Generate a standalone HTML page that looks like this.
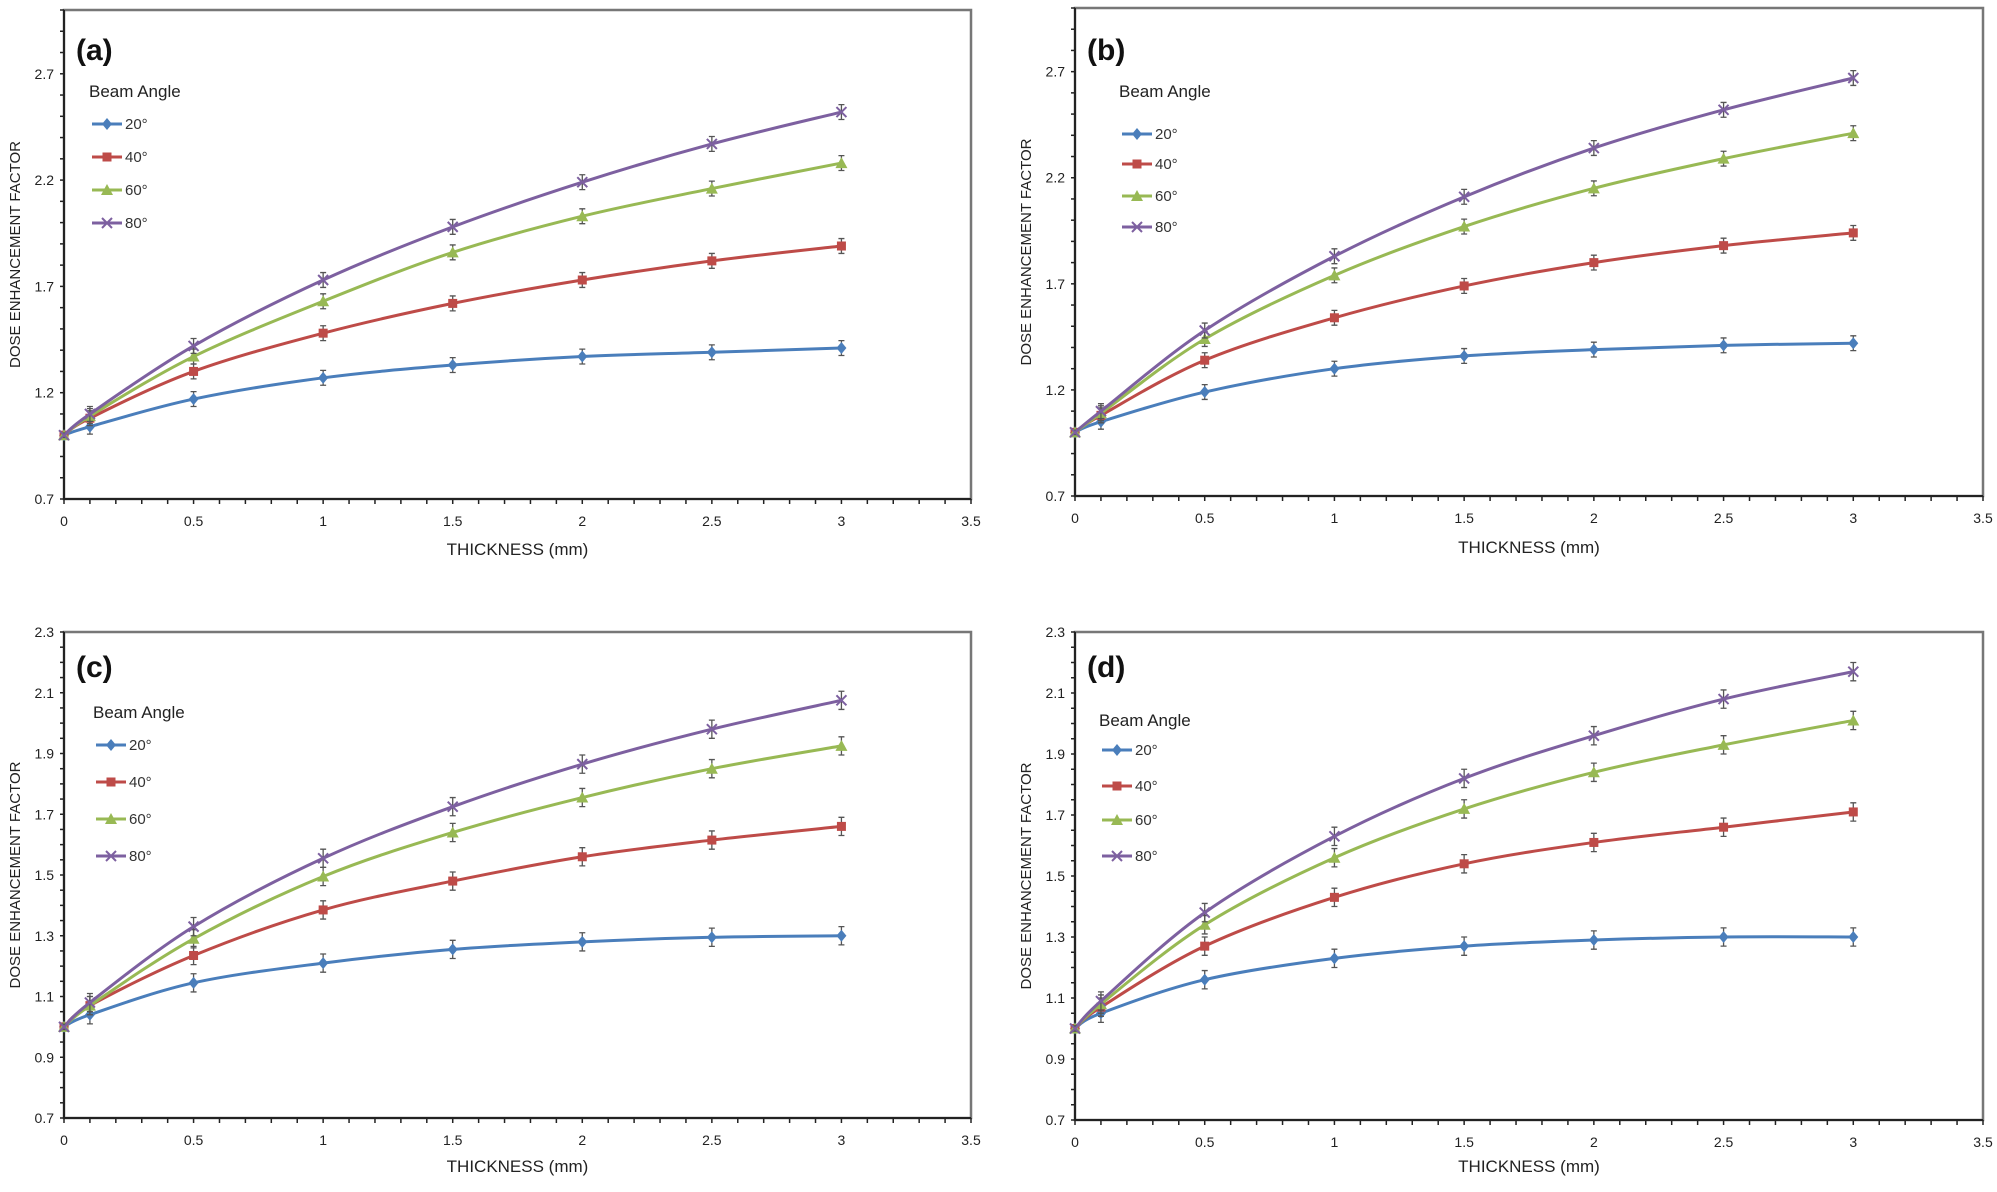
<!DOCTYPE html>
<html><head><meta charset="utf-8"><style>
html,body{margin:0;padding:0;background:#fff;overflow:hidden;}
svg{display:block;font-family:"Liberation Sans Narrow","Liberation Sans",sans-serif;}
</style></head><body>
<svg id="fig" width="1997" height="1192" viewBox="0 0 1997 1192" xmlns="http://www.w3.org/2000/svg"></svg>
<script>
const xValues=[0,0.1,0.5,1,1.5,2,2.5,3];
const seriesNames=["20°","40°","60°","80°"];
const a20=[1.0,1.04,1.17,1.27,1.33,1.37,1.39,1.41];
const a40=[1.0,1.08,1.30,1.48,1.62,1.73,1.82,1.89];
const a60=[1.0,1.09,1.37,1.63,1.86,2.03,2.16,2.28];
const a80=[1.0,1.10,1.42,1.73,1.98,2.19,2.37,2.52];
const b20=[1.0,1.05,1.19,1.30,1.36,1.39,1.41,1.42];
const b40=[1.0,1.08,1.34,1.54,1.69,1.80,1.88,1.94];
const b60=[1.0,1.09,1.44,1.74,1.97,2.15,2.29,2.41];
const b80=[1.0,1.10,1.48,1.83,2.11,2.34,2.52,2.67];
const c20=[1.0,1.04,1.145,1.21,1.255,1.28,1.295,1.30];
const c40=[1.0,1.07,1.235,1.385,1.48,1.56,1.615,1.66];
const c60=[1.0,1.07,1.29,1.495,1.64,1.755,1.85,1.925];
const c80=[1.0,1.08,1.33,1.555,1.725,1.865,1.98,2.075];
const d20=[1.0,1.05,1.16,1.23,1.27,1.29,1.30,1.30];
const d40=[1.0,1.07,1.27,1.43,1.54,1.61,1.66,1.71];
const d60=[1.0,1.08,1.34,1.56,1.72,1.84,1.93,2.01];
const d80=[1.0,1.09,1.38,1.63,1.82,1.96,2.08,2.17];
const xTicks=[0,0.5,1,1.5,2,2.5,3,3.5];
const yTicksAB=[0.7,1.2,1.7,2.2,2.7];
const yTicksCD=[0.7,0.9,1.1,1.3,1.5,1.7,1.9,2.1,2.3];
const errAB=0.035, errCD=0.03;

const colors=["#4a7ebb","#be4b48","#98b954","#7d60a0"];
const NS="http://www.w3.org/2000/svg";
const svg=document.getElementById('fig');
function mk(tag,attrs,parent,text){const e=document.createElementNS(NS,tag);for(const k in attrs)e.setAttribute(k,attrs[k]);if(text!==undefined)e.textContent=text;(parent||svg).appendChild(e);return e;}

const panels=[
 {id:'a',L:64,R:971,T:10,B:499,ymin:0.7,ymax:3.0,yt:yTicksAB,minor:0.1,data:[a20,a40,a60,a80],err:errAB,lx:92,ly:[124,157,190,223],ty:92,xt:555,lab:60},
 {id:'b',L:1075,R:1983,T:8,B:496,ymin:0.7,ymax:3.0,yt:yTicksAB,minor:0.1,data:[b20,b40,b60,b80],err:errAB,lx:1122,ly:[134,164,196,227],ty:92,xt:553,lab:60},
 {id:'c',L:64,R:971,T:632,B:1118,ymin:0.7,ymax:2.3,yt:yTicksCD,minor:0.05,data:[c20,c40,c60,c80],err:errCD,lx:96,ly:[745,782,819,856],ty:713,xt:1172,lab:677},
 {id:'d',L:1075,R:1983,T:632,B:1120,ymin:0.7,ymax:2.3,yt:yTicksCD,minor:0.05,data:[d20,d40,d60,d80],err:errCD,lx:1102,ly:[750,786,820,856],ty:721,xt:1172,lab:677}
];

function smooth(pts){let d=`M${pts[0][0]},${pts[0][1]}`;for(let i=0;i<pts.length-1;i++){const p0=pts[i-1]||pts[i],p1=pts[i],p2=pts[i+1],p3=pts[i+2]||p2;const t=1/6;d+=` C${p1[0]+(p2[0]-p0[0])*t},${p1[1]+(p2[1]-p0[1])*t} ${p2[0]-(p3[0]-p1[0])*t},${p2[1]-(p3[1]-p1[1])*t} ${p2[0]},${p2[1]}`;}return d;}
function marker(g,k,x,y,c){
 if(k===0){mk('path',{d:`M${x},${y-6}L${x+5},${y}L${x},${y+6}L${x-5},${y}Z`,fill:c},g);}
 else if(k===1){mk('rect',{x:x-4.5,y:y-4.5,width:9,height:9,fill:c},g);}
 else if(k===2){mk('path',{d:`M${x},${y-6}L${x+6},${y+5}L${x-6},${y+5}Z`,fill:c},g);}
 else {mk('path',{d:`M${x-5},${y-5}L${x+5},${y+5}M${x-5},${y+5}L${x+5},${y-5}`,stroke:c,'stroke-width':2,fill:'none'},g);}
}
panels.forEach(p=>{
 const g=mk('g',{});
 
 
 const X=v=>p.L+(v-0)/(3.5)*(p.R-p.L);
 const Y=v=>p.B-(v-p.ymin)/(p.ymax-p.ymin)*(p.B-p.T);
 const frame=mk('rect',{x:p.L,y:p.T,width:p.R-p.L,height:p.B-p.T,fill:'none',stroke:'#777','stroke-width':2.5},g);
 
 
 mk('line',{x1:p.L,y1:p.T,x2:p.L,y2:p.B,stroke:'#222','stroke-width':2},g);
 mk('line',{x1:p.L,y1:p.B,x2:p.R,y2:p.B,stroke:'#222','stroke-width':2},g);
 for(let v=0;v<=3.5001;v+=0.1){const x=X(v);mk('line',{x1:x,y1:p.B,x2:x,y2:p.B+5,stroke:'#222','stroke-width':1.5},g);}
 for(let v=p.ymin;v<=p.ymax+1e-6;v+=p.minor){const y=Y(v);mk('line',{x1:p.L-4,y1:y,x2:p.L,y2:y,stroke:'#222','stroke-width':1.5},g);}
 xTicks.forEach(v=>{const t=mk('text',{x:X(v),y:p.B+27,'font-size':14,'text-anchor':'middle',fill:'#222'},g,String(v));});
 p.yt.forEach(v=>{const t=mk('text',{x:p.L-10,y:Y(v)+5,'font-size':14,'text-anchor':'end',fill:'#222'},g,v.toFixed(1));});
 const xt=mk('text',{x:(p.L+p.R)/2,y:p.xt,'font-size':17,'text-anchor':'middle',fill:'#222'},g,'THICKNESS (mm)');
 
 const yc=(p.T+p.B)/2, yx=p.L-44;
 const yt=mk('text',{x:yx,y:yc,'font-size':15,'text-anchor':'middle',fill:'#222',transform:`rotate(-90 ${yx} ${yc})`,'font-family':'Liberation Sans, sans-serif'},g,'DOSE ENHANCEMENT FACTOR');
 
 const pl=mk('text',{x:p.L+12,y:p.lab,'font-size':30,'font-weight':'bold',fill:'#111'},g,'('+p.id+')');
 
 p.data.forEach((arr,k)=>{
  const sg=mk('g',{},g);
  
  
  const pts=arr.map((v,i)=>[X(xValues[i]),Y(v)]);
  mk('path',{d:smooth(pts),fill:'none',stroke:colors[k],'stroke-width':3},sg);
  arr.forEach((v,i)=>{
   const x=X(xValues[i]);const e=p.err*(v>1.001?1:0.3);
   const y1=Y(v+e),y2=Y(v-e);
   mk('path',{d:`M${x},${y1}L${x},${y2}M${x-3},${y1}L${x+3},${y1}M${x-3},${y2}L${x+3},${y2}`,stroke:'#555','stroke-width':1.3,fill:'none'},sg);
   marker(sg,k,x,Y(v),colors[k]);
  });
 });
 const lg=mk('g',{},g);
 
 
 mk('text',{x:p.lx-3,y:p.ty+5,'font-size':17,fill:'#222'},lg,'Beam Angle');
 seriesNames.forEach((n,k)=>{
  const eg=mk('g',{},lg);
  
  
  const y=p.ly[k];
  mk('line',{x1:p.lx,y1:y,x2:p.lx+30,y2:y,stroke:colors[k],'stroke-width':3},eg);
  marker(eg,k,p.lx+15,y,colors[k]);
  mk('text',{x:p.lx+33,y:y+5,'font-size':15,fill:'#333'},eg,n);
 });
});
</script>
</body></html>
